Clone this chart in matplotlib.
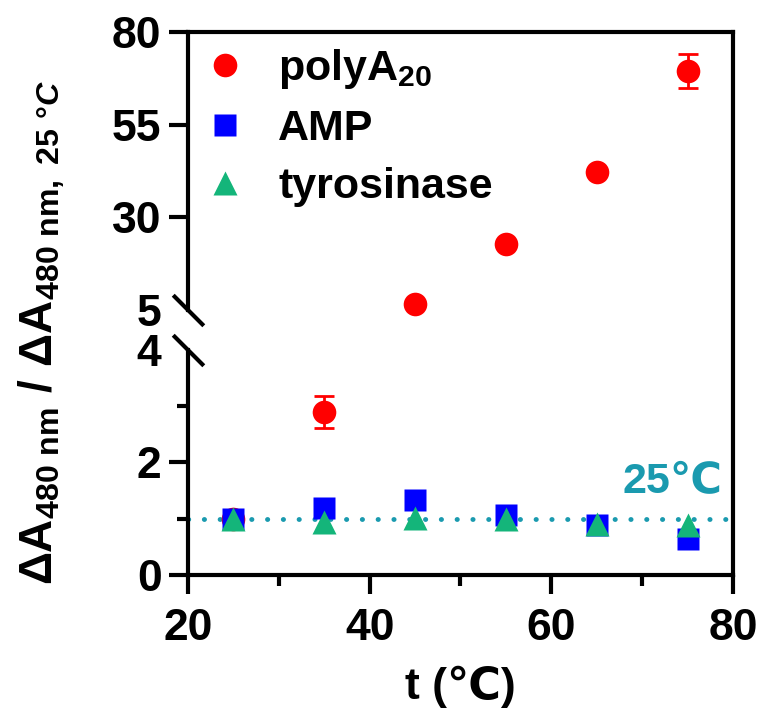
import numpy as np
import matplotlib
matplotlib.use("Agg")
import matplotlib.pyplot as plt
from matplotlib.lines import Line2D

plt.rcParams['font.family'] = ['Liberation Sans', 'DejaVu Sans']
plt.rcParams['font.weight'] = 'bold'
plt.rcParams['mathtext.fontset'] = 'custom'
plt.rcParams['mathtext.rm'] = 'Liberation Sans:bold'
plt.rcParams['mathtext.bf'] = 'Liberation Sans:bold'
plt.rcParams['mathtext.it'] = 'Liberation Sans:italic:bold'
plt.rcParams['mathtext.fallback'] = 'stixsans'

# data
temps = np.array([25, 35, 45, 55, 65, 75])
polyA = np.array([1.0, 2.9, 6.7, 22.8, 42.1, 69.6])
polyA_err = np.array([0.02, 0.28, 0.2, 0.3, 0.4, 4.6])
amp = np.array([1.0, 1.19, 1.34, 1.06, 0.89, 0.64])
tyr = np.array([1.0, 0.94, 1.01, 1.0, 0.9, 0.89])
ref_level = 1.0
break_lo, break_hi = 4, 5

red = '#FF0000'
blue = '#0000FF'
green = '#14B57A'
teal = '#1A9AAF'
lw = 3

fig = plt.figure(figsize=(7.59, 7.24), dpi=100)
L, W = 0.2477, 0.718
ax_top = fig.add_axes([L, 0.5718, W, 0.384])
ax_bot = fig.add_axes([L, 0.2058, W, 0.3108])

ms = 17
for ax in (ax_top, ax_bot):
    if ax is ax_top:
        sel = polyA >= break_hi
    else:
        sel = polyA <= break_lo
    ax.errorbar(temps[sel], polyA[sel], yerr=polyA_err[sel], fmt='none',
                ecolor=red, elinewidth=2, capsize=7.5, capthick=2, zorder=2)
    h1, = ax.plot(temps[sel], polyA[sel], 'o', color=red, ms=ms, mec='none',
                  zorder=3, clip_on=False, label=r'polyA$_{\mathbf{20}}$')
    if ax is ax_bot:
        h2, = ax.plot(temps, amp, 's', color=blue, ms=ms - 1, mec='none',
                      zorder=4, label='AMP')
        h3, = ax.plot(temps, tyr, '^', color=green, ms=ms, mec='none',
                      zorder=5, label='tyrosinase')
    ax.set_xlim(20, 80)
    for s in ax.spines.values():
        s.set_linewidth(lw)
    ax.spines['right'].set_visible(False)
    ax.tick_params(width=lw, length=14, labelsize=32, pad=5)
    ax.tick_params(which='minor', width=lw, length=8)

# top part
ax_top.set_ylim(break_hi, 80)
ax_top.set_yticks([5, 30, 55, 80])
ax_top.spines['bottom'].set_visible(False)
ax_top.tick_params(axis='x', which='both', bottom=False, labelbottom=False)
ax_top.yaxis.get_major_ticks()[0].tick1line.set_visible(False)

# bottom part
ax_bot.set_ylim(0, break_lo)
ax_bot.set_yticks([0, 2, 4])
ax_bot.set_yticks([1, 3], minor=True)
ax_bot.set_xticks([20, 40, 60, 80])
ax_bot.set_xticks([30, 50, 70], minor=True)
ax_bot.spines['top'].set_visible(False)
ax_bot.yaxis.get_major_ticks()[-1].tick1line.set_visible(False)
ax_bot.tick_params(axis='x', pad=10)

ax_bot.plot([20, 80], [ref_level, ref_level], color=teal, lw=3.5,
            linestyle=(0, (0.05, 3.2)), dash_capstyle='round', zorder=1)
ax_bot.text(78.9, 1.3, '25℃', color=teal, fontsize=31, fontweight='bold',
            ha='right', va='bottom')

# continuous right frame line
fig.add_artist(Line2D([L + W, L + W], [0.2058, 0.9558], color='black',
                      lw=lw, solid_capstyle='projecting'))

# break marks
brk = dict(marker=[(-1, 1), (1, -1)], markersize=22, color='black', mew=lw,
           linestyle='none', clip_on=False)
ax_top.plot([0], [0], transform=ax_top.transAxes, **brk)
ax_bot.plot([0], [1], transform=ax_bot.transAxes, **brk)

ax_top.legend(handles=[h1, h2, h3], loc='upper left', frameon=False,
              fontsize=31, handletextpad=0.75, labelspacing=0.42,
              borderaxespad=0.0, handlelength=1.0, borderpad=0.35)

ax_bot.set_xlabel('t (℃)', fontsize=32, fontweight='bold', labelpad=12)
fig.text(0.055, 0.54,
         r'$\Delta\mathbf{A}_{\mathbf{480\ nm}}\ \mathbf{/}\ \Delta\mathbf{A}_{\mathbf{480\ nm,}\ \mathit{25\ °C}}$',
         rotation=90, ha='center', va='center', fontsize=33)

fig.savefig('out.png', dpi=100)
